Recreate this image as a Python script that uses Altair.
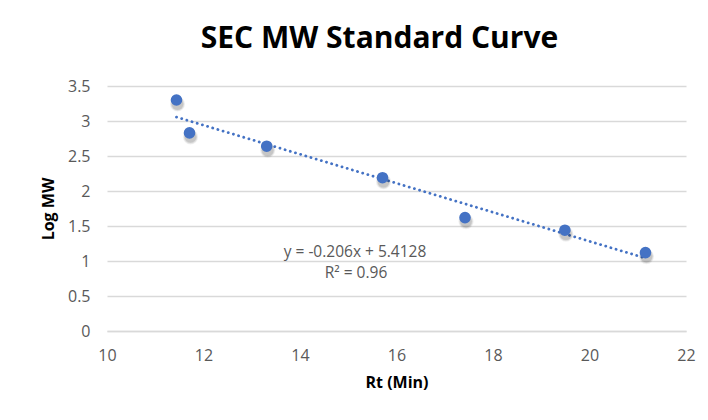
import altair as alt
import pandas as pd

rt_min = [11.44, 11.71, 13.31, 15.71, 17.42, 19.49, 21.16]
log_mw = [3.30, 2.83, 2.64, 2.19, 1.62, 1.44, 1.12]
equation = ["y = -0.206x + 5.4128", "R² = 0.96"]

df = pd.DataFrame({"rt": rt_min, "logmw": log_mw})

FONT = "Open Sans"
GRAY = "#595959"
BLUE = "#4472C4"

x = alt.X("rt:Q", title="Rt (Min)",
          scale=alt.Scale(domain=[10, 22], nice=False),
          axis=alt.Axis(values=[10, 12, 14, 16, 18, 20, 22], grid=False, ticks=False,
                        domain=True, domainColor="#D9D9D9", domainWidth=1.5,
                        labelFlush=False, labelPadding=16, titlePadding=11))
y = alt.Y("logmw:Q", title="Log MW",
          scale=alt.Scale(domain=[0, 3.5], nice=False),
          axis=alt.Axis(values=[0, 0.5, 1, 1.5, 2, 2.5, 3, 3.5], format="~g", grid=True, ticks=False,
                        domain=False, gridColor="#D9D9D9", gridWidth=1.5,
                        labelFlush=False, labelPadding=17, titlePadding=11))

base = alt.Chart(df)

trend = base.transform_regression("rt", "logmw", method="linear").mark_line(
    color=BLUE, strokeWidth=2.8, strokeDash=[0.1, 5.3], strokeCap="round"
).encode(x=x, y=y)

shadows = [
    base.mark_circle(size=s, color="#000000", opacity=o, yOffset=4, xOffset=1).encode(x=x, y=y)
    for s, o in [(230, 0.06), (180, 0.08), (140, 0.10)]
]
points = base.mark_circle(size=135, color=BLUE, opacity=1).encode(x=x, y=y)

eq_df = pd.DataFrame({"t": equation, "i": [0, 1]})
eq1 = alt.Chart(eq_df).transform_filter("datum.i == 0").mark_text(
    font=FONT, fontSize=15.5, color=GRAY, align="center", baseline="middle"
).encode(text="t:N", x=alt.value(248), y=alt.value(166))
eq2 = alt.Chart(eq_df).transform_filter("datum.i == 1").mark_text(
    font=FONT, fontSize=15.5, color=GRAY, align="center", baseline="middle"
).encode(text="t:N", x=alt.value(249), y=alt.value(187))

chart = alt.layer(trend, *shadows, points, eq1, eq2).properties(
    width=579, height=245,
    title=alt.TitleParams("SEC MW Standard Curve", font=FONT, fontSize=30, fontWeight="bold",
                          color="#000000", anchor="middle", dx=-17, offset=24),
    autosize=alt.AutoSizeParams(type="none"),
    padding={"left": 99, "top": 78, "right": 14, "bottom": 80},
).configure_view(stroke=None).configure_axis(
    labelFont=FONT, labelFontSize=16, labelColor=GRAY,
    titleFont=FONT, titleFontSize=16, titleColor="#000000", titleFontWeight="bold"
)

chart.save("out.html", embed_options={"renderer": "svg", "actions": False})
